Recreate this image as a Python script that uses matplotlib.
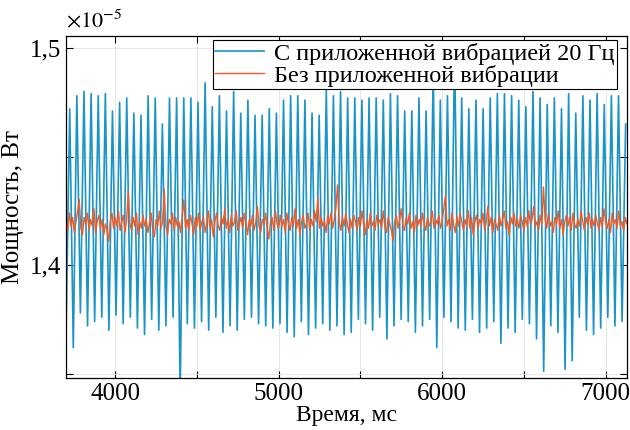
import numpy as np
import matplotlib
matplotlib.use('Agg')
import matplotlib.pyplot as plt
from matplotlib.ticker import FuncFormatter

plt.rcParams['font.family'] = ['Liberation Serif', 'DejaVu Serif']
plt.rcParams['mathtext.fontset'] = 'stix'

# мощность в единицах 1e-5 Вт
# с вибрацией 20 Гц: минимумы и максимумы каждого периода
troughs = [1.372, 1.362, 1.378, 1.372, 1.374, 1.376, 1.370, 1.377, 1.373, 1.376,
           1.371, 1.368, 1.375, 1.370, 1.372, 1.376, 1.340, 1.373, 1.371, 1.374,
           1.370, 1.376, 1.369, 1.372, 1.370, 1.375, 1.376, 1.373, 1.372, 1.371,
           1.373, 1.369, 1.367, 1.374, 1.368, 1.371, 1.373, 1.370, 1.372, 1.368,
           1.369, 1.375, 1.373, 1.370, 1.376, 1.366, 1.372, 1.375, 1.374, 1.369,
           1.372, 1.375, 1.362, 1.376, 1.374, 1.371, 1.370, 1.375, 1.369, 1.371,
           1.374, 1.364, 1.371, 1.369, 1.375, 1.373, 1.366, 1.351, 1.372, 1.369,
           1.352, 1.356, 1.376, 1.370, 1.368, 1.371, 1.376, 1.372, 1.374]
peaks = [1.472, 1.478, 1.480, 1.479, 1.478, 1.479, 1.471, 1.475, 1.477, 1.470,
         1.469, 1.478, 1.477, 1.465, 1.477, 1.477, 1.477, 1.477, 1.475, 1.484,
         1.473, 1.478, 1.471, 1.480, 1.470, 1.476, 1.469, 1.469, 1.472, 1.470,
         1.476, 1.478, 1.478, 1.476, 1.470, 1.469, 1.481, 1.478, 1.480, 1.477,
         1.477, 1.476, 1.477, 1.477, 1.476, 1.479, 1.478, 1.471, 1.471, 1.477,
         1.471, 1.490, 1.476, 1.478, 1.500, 1.477, 1.472, 1.476, 1.472, 1.477,
         1.479, 1.479, 1.478, 1.476, 1.473, 1.480, 1.477, 1.474, 1.477, 1.472,
         1.479, 1.470, 1.478, 1.476, 1.479, 1.474, 1.478, 1.478, 1.465]
t_vib_start, t_vib_step = 3700, 21.8

# без вибрации, шаг 10 мс
no_vib = [1.421, 1.416, 1.424, 1.418, 1.422, 1.415, 1.420, 1.425, 1.430, 1.417, 1.414, 1.422,
          1.419, 1.424, 1.416, 1.421, 1.418, 1.426, 1.415, 1.420, 1.423, 1.417, 1.421, 1.414,
          1.419, 1.416, 1.411, 1.420, 1.424, 1.417, 1.422, 1.418, 1.425, 1.416, 1.420, 1.423,
          1.415, 1.421, 1.434, 1.419, 1.416, 1.422, 1.418, 1.424, 1.414, 1.420, 1.417, 1.423,
          1.418, 1.421, 1.415, 1.419, 1.424, 1.416, 1.413, 1.421, 1.418, 1.425, 1.417, 1.420,
          1.435, 1.418, 1.414, 1.421, 1.419, 1.424, 1.416, 1.422, 1.418, 1.420, 1.415, 1.423,
          1.430, 1.417, 1.421, 1.416, 1.423, 1.419, 1.414, 1.422, 1.418, 1.424, 1.416, 1.420,
          1.422, 1.415, 1.419, 1.425, 1.417, 1.421, 1.413, 1.420, 1.424, 1.418, 1.416, 1.422,
          1.419, 1.426, 1.417, 1.421, 1.415, 1.423, 1.418, 1.420, 1.425, 1.416, 1.419, 1.422,
          1.417, 1.424, 1.419, 1.414, 1.421, 1.418, 1.423, 1.416, 1.420, 1.427, 1.418, 1.415,
          1.421, 1.419, 1.424, 1.417, 1.412, 1.420, 1.422, 1.416, 1.425, 1.419, 1.417, 1.423,
          1.418, 1.421, 1.415, 1.424, 1.419, 1.416, 1.422, 1.418, 1.426, 1.417, 1.421, 1.414,
          1.420, 1.423, 1.417, 1.419, 1.424, 1.416, 1.421, 1.418, 1.425, 1.420, 1.431, 1.417,
          1.422, 1.418, 1.420, 1.415, 1.423, 1.419, 1.424, 1.417, 1.421, 1.426, 1.437, 1.420,
          1.416, 1.422, 1.418, 1.424, 1.419, 1.415, 1.421, 1.417, 1.423, 1.420, 1.416, 1.422,
          1.418, 1.425, 1.419, 1.414, 1.421, 1.417, 1.424, 1.418, 1.420, 1.416, 1.423, 1.419,
          1.421, 1.417, 1.425, 1.418, 1.415, 1.422, 1.419, 1.416, 1.411, 1.420, 1.423, 1.417,
          1.421, 1.426, 1.418, 1.416, 1.422, 1.419, 1.424, 1.417, 1.420, 1.415, 1.423, 1.418,
          1.421, 1.418, 1.424, 1.419, 1.416, 1.422, 1.418, 1.420, 1.425, 1.417, 1.421, 1.419,
          1.423, 1.417, 1.420, 1.426, 1.432, 1.418, 1.421, 1.416, 1.424, 1.419, 1.415, 1.422,
          1.418, 1.424, 1.420, 1.416, 1.421, 1.418, 1.425, 1.417, 1.422, 1.414, 1.420, 1.423,
          1.417, 1.421, 1.419, 1.424, 1.416, 1.420, 1.427, 1.418, 1.422, 1.415, 1.421, 1.419,
          1.416, 1.423, 1.418, 1.421, 1.425, 1.417, 1.420, 1.414, 1.422, 1.419, 1.424, 1.418,
          1.421, 1.417, 1.423, 1.420, 1.416, 1.422, 1.418, 1.425, 1.419, 1.421, 1.427, 1.418,
          1.420, 1.416, 1.423, 1.419, 1.436, 1.421, 1.417, 1.424, 1.418, 1.420, 1.415, 1.422,
          1.419, 1.425, 1.417, 1.421, 1.414, 1.420, 1.423, 1.418, 1.422, 1.416, 1.424, 1.419,
          1.417, 1.421, 1.418, 1.425, 1.420, 1.416, 1.422, 1.419, 1.424, 1.417, 1.421, 1.418,
          1.423, 1.419, 1.416, 1.422, 1.418, 1.426, 1.420, 1.417, 1.421, 1.415, 1.424, 1.419,
          1.421, 1.417, 1.425, 1.418, 1.420, 1.416, 1.422, 1.419]
t_novib_start, t_novib_step = 3700, 10

vib = np.empty(2 * len(peaks))
vib[0::2] = troughs
vib[1::2] = peaks
t_vib = t_vib_start + t_vib_step * np.arange(len(vib))
t_novib = t_novib_start + t_novib_step * np.arange(len(no_vib))

fig = plt.figure(figsize=(6.3, 4.3), dpi=100)
ax = fig.add_axes([0.105, 0.121, 0.89, 0.795])

ax.plot(t_vib, vib, color='#1A93C6', lw=1.2, label='С приложенной вибрацией 20 Гц')
ax.plot(t_novib, no_vib, color='#F05A24', lw=1.0, label='Без приложенной вибрации')

ax.set_xlim(3700, 7130)
ax.set_ylim(1.348, 1.5055)
ax.set_xticks(np.arange(4000, 7001, 500))
ax.set_yticks([1.35, 1.40, 1.45, 1.50])
ax.xaxis.set_major_formatter(FuncFormatter(lambda v, p: '%d' % v if v % 1000 == 0 else ''))
ax.yaxis.set_major_formatter(FuncFormatter(
    lambda v, p: ('%.1f' % v).replace('.', ',') if round(v * 100) % 10 == 0 else ''))
ax.tick_params(direction='in', top=True, right=True, length=5, width=0.8, labelsize=18)
ax.grid(True, color='#e2e2e2', lw=0.6)
for s in ax.spines.values():
    s.set_linewidth(0.9)

ax.set_xlabel('Время, мс', fontsize=17, labelpad=0)
ax.set_ylabel('Мощность, Вт', fontsize=18, labelpad=4)
fig.text(0.105, 0.935, r'$\times10^{-5}$', fontsize=16)

leg = ax.legend(loc='upper right', bbox_to_anchor=(0.982, 0.988), fontsize=17.5,
                frameon=True, fancybox=False, borderpad=0.1, labelspacing=0.0,
                handlelength=2.0, handletextpad=0.4, borderaxespad=0, framealpha=1)
leg.get_frame().set_edgecolor('black')
leg.get_frame().set_linewidth(0.8)

fig.savefig('out.png', dpi=100)
